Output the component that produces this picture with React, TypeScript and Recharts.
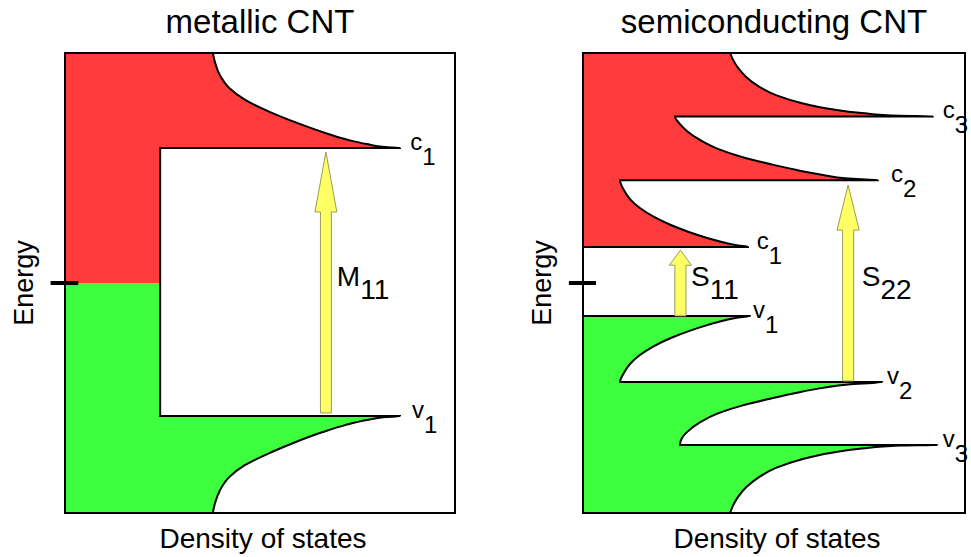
import React from 'react';
import {
  ComposedChart,
  Area,
  XAxis,
  YAxis,
  Label,
  ReferenceArea,
  ReferenceLine,
  ReferenceDot,
} from 'recharts';

const FONT = '"Liberation Sans", Arial, Helvetica, sans-serif';
const RED = '#ff3b3b';
const GREEN = '#3dff3d';
const ARROW_FILL = '#ffff66';
const ARROW_EDGE = '#9b9b55';

// metallic tube: outline of the density of states, energy (E) vs DOS (D)
const metalCondE = [10, 9.57, 9.04, 8.48, 7.96, 7.43, 6.96, 6.57, 6.26, 6.04, 5.91, 5.87, 5.87, 0];
const metalCondD = [3.79, 3.85, 3.97, 4.21, 4.62, 5.26, 5.95, 6.59, 7.18, 7.74, 8.21, 8.59, 2.44, 2.44];
const metalValE = [0, -5.78, -5.78, -5.83, -5.96, -6.18, -6.49, -6.89, -7.38, -7.91, -8.44, -9.02, -9.55, -10];
const metalValD = [2.44, 2.44, 8.59, 8.21, 7.74, 7.18, 6.59, 5.95, 5.26, 4.62, 4.21, 3.97, 3.85, 3.79];

// semiconducting tube
const semiCondE = [10, 9.7, 9.35, 8.96, 8.57, 8.17, 7.83, 7.57, 7.39, 7.27, 7.24, 7.24, 6.91, 6.61, 6.22, 5.83, 5.48, 5.17, 4.91, 4.7, 4.54, 4.47, 4.47, 4.04, 3.65, 3.26, 2.87, 2.52, 2.22, 1.96, 1.76, 1.63, 1.57, 1.57];
const semiCondD = [3.85, 3.93, 4.06, 4.27, 4.58, 5.05, 5.71, 6.47, 7.3, 8.3, 9.16, 2.41, 2.54, 2.72, 3.06, 3.53, 4.16, 4.9, 5.6, 6.28, 6.94, 7.72, 0.97, 1.07, 1.23, 1.49, 1.86, 2.3, 2.77, 3.25, 3.69, 4.06, 4.32, 0];
const semiValE = [-1.43, -1.43, -1.5, -1.63, -1.83, -2.09, -2.39, -2.74, -3.13, -3.52, -3.91, -4.3, -4.3, -4.41, -4.56, -4.77, -5.03, -5.33, -5.67, -6.06, -6.44, -6.74, -7.04, -7.04, -7.07, -7.2, -7.39, -7.67, -8.04, -8.47, -8.88, -9.3, -9.67, -10];
const semiValD = [0, 4.37, 4.06, 3.69, 3.25, 2.77, 2.3, 1.86, 1.49, 1.23, 1.07, 0.97, 7.83, 6.94, 6.28, 5.6, 4.9, 4.16, 3.53, 3.06, 2.75, 2.59, 2.54, 9.27, 8.3, 7.3, 6.47, 5.71, 5.05, 4.58, 4.27, 4.06, 3.93, 3.85];

// band edge labels (c = conduction, v = valence)
const metalLevelNames = ['c', 'v'];
const metalLevelSubs = ['1', '1'];
const metalLevelE = [5.87, -5.78];
const metalLevelD = [8.85, 8.9];

const semiLevelNames = ['c', 'v', 'c', 'v', 'c', 'v'];
const semiLevelSubs = ['1', '1', '2', '2', '3', '3'];
const semiLevelE = [1.57, -1.43, 4.47, -4.3, 7.24, -7.04];
const semiLevelD = [4.55, 4.45, 8.06, 7.96, 9.42, 9.42];

// optical transitions
const metalTransNames = ['M'];
const metalTransSubs = ['11'];
const metalTransD = [6.69];
const metalTransFrom = [-5.65];
const metalTransTo = [5.7];
const metalTransLabelD = [6.97];

const semiTransNames = ['S', 'S'];
const semiTransSubs = ['11', '22'];
const semiTransD = [2.55, 6.94];
const semiTransFrom = [-1.43, -4.26];
const semiTransTo = [1.43, 4.26];
const semiTransLabelD = [2.83, 7.3];

const buildRows = (condE: number[], condD: number[], valE: number[], valD: number[]) => [
  ...condE.map((e, i) => ({ e, red: condD[i] })),
  ...valE.map((e, i) => ({ e, green: valD[i] })),
];

const ArrowShape = (p: any) => {
  const { x, y, width, height } = p;
  const cx = x + width / 2;
  const head = height * 0.23;
  const hs = width * 0.25;
  const pts = [
    [cx, y],
    [x + width, y + head],
    [cx + hs, y + head],
    [cx + hs, y + height],
    [cx - hs, y + height],
    [cx - hs, y + head],
    [x, y + head],
  ]
    .map((q) => q.join(','))
    .join(' ');
  return <polygon points={pts} fill={ARROW_FILL} stroke={ARROW_EDGE} strokeWidth={1} />;
};

const subLabel = (main: string, sub: string, size: number, drop: number, lift: number) => (p: any) => (
  <text x={p.cx} y={p.cy + lift} fontSize={size} fontFamily={FONT} fill="#000">
    {main}
    <tspan dy={drop}>{sub}</tspan>
  </text>
);

interface PanelProps {
  title: string;
  left: number;
  width: number;
  right: number;
  rows: { e: number; red?: number; green?: number }[];
  levelNames: string[];
  levelSubs: string[];
  levelE: number[];
  levelD: number[];
  transNames: string[];
  transSubs: string[];
  transD: number[];
  transFrom: number[];
  transTo: number[];
  transLabelD: number[];
  arrowHalf: number;
}

const DosPanel: React.FC<PanelProps> = (props) => {
  const { title, left, width, right, rows } = props;
  const plotW = width - 65 - right;
  return (
    <div style={{ position: 'absolute', left, top: 0, width, height: 557 }}>
      <ComposedChart
        layout="vertical"
        width={width}
        height={557}
        data={rows}
        margin={{ top: 53, right, bottom: 0, left: 0 }}
      >
        <XAxis type="number" domain={[0, 10]} tick={false} axisLine={false} tickLine={false} height={44}>
          <Label value="Density of states" position="center" dx={3} dy={3} style={{ fontSize: 28, fill: '#000', fontFamily: FONT }} />
        </XAxis>
        <YAxis type="number" dataKey="e" domain={[-10, 10]} reversed tick={false} axisLine={false} tickLine={false} width={65}>
          <Label value="Energy" angle={-90} position="center" dx={-9.5} style={{ fontSize: 27, fill: '#000', fontFamily: FONT }} />
        </YAxis>
        <Area
          type="monotone"
          dataKey="red"
          stroke="#000"
          strokeWidth={2}
          fill={RED}
          fillOpacity={1}
          dot={false}
          activeDot={false}
          isAnimationActive={false}
        />
        <Area
          type="monotone"
          dataKey="green"
          stroke="#000"
          strokeWidth={2}
          fill={GREEN}
          fillOpacity={1}
          dot={false}
          activeDot={false}
          isAnimationActive={false}
        />
        {props.transD.map((d, i) => (
          <ReferenceArea
            key={`arrow${i}`}
            x1={d - props.arrowHalf}
            x2={d + props.arrowHalf}
            y1={props.transFrom[i]}
            y2={props.transTo[i]}
            shape={ArrowShape}
            zIndex={2000}
          />
        ))}
        {props.transD.map((d, i) => (
          <ReferenceDot
            key={`tl${i}`}
            x={props.transLabelD[i]}
            y={0}
            r={0}
            ifOverflow="visible"
            shape={subLabel(props.transNames[i], props.transSubs[i], 28, 13, 3)}
            zIndex={2100}
          />
        ))}
        {props.levelD.map((d, i) => (
          <ReferenceDot
            key={`lv${i}`}
            x={d}
            y={props.levelE[i]}
            r={0}
            ifOverflow="visible"
            shape={subLabel(props.levelNames[i], props.levelSubs[i], 24, 15, 2)}
            zIndex={2100}
          />
        ))}
        <ReferenceLine
          segment={[
            { x: -0.37, y: 0 },
            { x: 0.34, y: 0 },
          ]}
          stroke="#000"
          strokeWidth={4}
          ifOverflow="visible"
          zIndex={2200}
        />
        <ReferenceArea x1={0} x2={10} y1={-10} y2={10} fill="none" fillOpacity={0} stroke="#000" strokeWidth={2} zIndex={2300} />
      </ComposedChart>
      <div
        style={{
          position: 'absolute',
          left: 65,
          width: plotW,
          top: 5,
          textAlign: 'center',
          fontSize: 33,
          lineHeight: '33px',
          fontFamily: FONT,
          color: '#000',
        }}
      >
        {title}
      </div>
    </div>
  );
};

export default function App() {
  return (
    <div style={{ position: 'absolute', left: 0, top: 0, width: 971, height: 557, background: '#fff' }}>
      <DosPanel
        title="metallic CNT"
        left={0}
        width={480}
        right={25}
        rows={buildRows(metalCondE, metalCondD, metalValE, metalValD)}
        levelNames={metalLevelNames}
        levelSubs={metalLevelSubs}
        levelE={metalLevelE}
        levelD={metalLevelD}
        transNames={metalTransNames}
        transSubs={metalTransSubs}
        transD={metalTransD}
        transFrom={metalTransFrom}
        transTo={metalTransTo}
        transLabelD={metalTransLabelD}
        arrowHalf={0.28}
      />
      <DosPanel
        title="semiconducting CNT"
        left={518}
        width={453}
        right={6}
        rows={buildRows(semiCondE, semiCondD, semiValE, semiValD)}
        levelNames={semiLevelNames}
        levelSubs={semiLevelSubs}
        levelE={semiLevelE}
        levelD={semiLevelD}
        transNames={semiTransNames}
        transSubs={semiTransSubs}
        transD={semiTransD}
        transFrom={semiTransFrom}
        transTo={semiTransTo}
        transLabelD={semiTransLabelD}
        arrowHalf={0.29}
      />
    </div>
  );
}
